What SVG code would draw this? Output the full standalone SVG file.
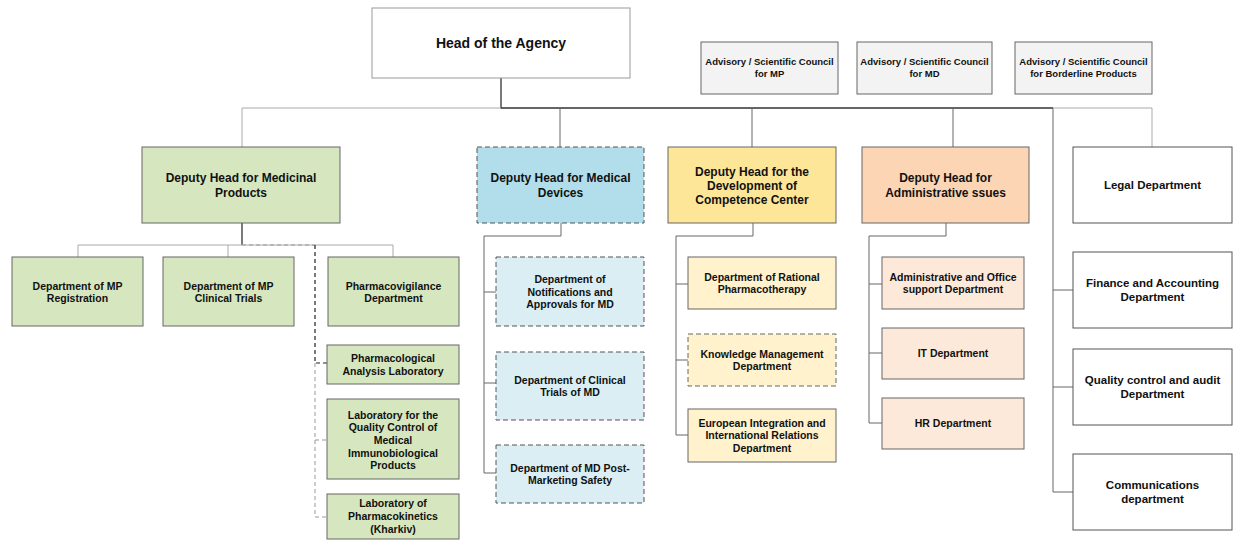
<svg xmlns="http://www.w3.org/2000/svg" width="1235" height="540" viewBox="0 0 1235 540">
<style>
text{font-family:"Liberation Sans",Arial,sans-serif;font-weight:bold;fill:#111;text-anchor:middle}
.t14{font-size:14px}.t12{font-size:12px}.t115{font-size:11.5px}.t105{font-size:10.5px}.t95{font-size:9.5px}
rect{stroke-width:1}
.head{fill:#fff;stroke:#999}
.adv{fill:#f3f3f3;stroke:#666}
.g1{fill:#d6e7bf;stroke:#666}
.b1{fill:#b1deea;stroke:#555;stroke-dasharray:5 3}
.b2{fill:#daeef3;stroke:#555;stroke-dasharray:5 3}
.y1{fill:#fee699;stroke:#666}
.y2{fill:#fff2cc;stroke:#666}
.y2d{fill:#fff2cc;stroke:#666;stroke-dasharray:5 3}
.o1{fill:#fcd5b5;stroke:#666}
.o2{fill:#fde9d9;stroke:#666}
.w{fill:#fff;stroke:#555}
.c{fill:none}
.dk{stroke:#333;stroke-width:1.3}
.md{stroke:#666;stroke-width:1}
.lt{stroke:#aaa;stroke-width:1}
.dd{stroke:#222;stroke-width:1.2;stroke-dasharray:4 3}
.ld{stroke:#999;stroke-width:1;stroke-dasharray:4 3}
</style>
<g id="connectors" class="c">
<path class="dk" d="M501 78V108H1053"/>
<path class="lt" d="M501 108H242V147"/>
<path class="md" d="M560 108V147M752 108V147M953 108V147"/>
<path class="md" d="M1053 108V492H1073M1053 290H1073M1053 387H1073"/>
<path class="lt" d="M1053 108H1152V147"/>
<path class="dk" d="M242 223V245"/>
<path class="lt" d="M78 245H393M78 245V257M228 245V257M393 245V257"/>
<path class="ld" d="M242 245H315"/>
<path class="dd" d="M315 245V363H327"/>
<path class="ld" d="M315 363V517H327M315 440H327"/>
<path class="md" d="M561 223V236H484V473H496M484 292H496M484 383H496"/>
<path class="md" d="M753 223V236H676V435H688M676 284H688M676 360H688"/>
<path class="md" d="M946 223V236H869V423H882M869 284H882M869 353H882"/>
</g>
<g id="head"><rect class="head" x="372" y="8" width="258" height="70"/><text class="t14" x="501" y="48">Head of the Agency</text></g>
<g id="adv-mp"><rect class="adv" x="701" y="42" width="137" height="52"/><text class="t95" x="769.5" y="65">Advisory / Scientific Council</text><text class="t95" x="769.5" y="77">for MP</text></g>
<g id="adv-md"><rect class="adv" x="857" y="42" width="135" height="52"/><text class="t95" x="924.5" y="65">Advisory / Scientific Council</text><text class="t95" x="924.5" y="77">for MD</text></g>
<g id="adv-bp"><rect class="adv" x="1015" y="42" width="137" height="52"/><text class="t95" x="1083.5" y="65">Advisory / Scientific Council</text><text class="t95" x="1083.5" y="77">for Borderline Products</text></g>

<g id="dep-mp"><rect class="g1" x="142" y="147" width="198" height="76"/><text class="t12" x="241" y="182">Deputy Head for Medicinal</text><text class="t12" x="241" y="196.5">Products</text></g>
<g id="mp-reg"><rect class="g1" x="12" y="257" width="131" height="69"/><text class="t105" x="77.5" y="289.5">Department of MP</text><text class="t105" x="77.5" y="302">Registration</text></g>
<g id="mp-ct"><rect class="g1" x="163" y="257" width="131" height="69"/><text class="t105" x="228.5" y="289.5">Department of MP</text><text class="t105" x="228.5" y="302">Clinical Trials</text></g>
<g id="mp-pv"><rect class="g1" x="328" y="257" width="131" height="69"/><text class="t105" x="393.5" y="289.5">Pharmacovigilance</text><text class="t105" x="393.5" y="302">Department</text></g>
<g id="lab-pa"><rect class="g1" x="327" y="345" width="132" height="39"/><text class="t105" x="393" y="362">Pharmacological</text><text class="t105" x="393" y="374.5">Analysis Laboratory</text></g>
<g id="lab-qc"><rect class="g1" x="327" y="399" width="132" height="80"/><text class="t105" x="393" y="418.5">Laboratory for the</text><text class="t105" x="393" y="431.2">Quality Control of</text><text class="t105" x="393" y="443.9">Medical</text><text class="t105" x="393" y="456.6">Immunobiological</text><text class="t105" x="393" y="469.3">Products</text></g>
<g id="lab-pk"><rect class="g1" x="327" y="494" width="132" height="45"/><text class="t105" x="393" y="506.5">Laboratory of</text><text class="t105" x="393" y="519.5">Pharmacokinetics</text><text class="t105" x="393" y="532.5">(Kharkiv)</text></g>

<g id="dep-md"><rect class="b1" x="477" y="147" width="167" height="76"/><text class="t12" x="560.5" y="182">Deputy Head for Medical</text><text class="t12" x="560.5" y="196.5">Devices</text></g>
<g id="md-na"><rect class="b2" x="496" y="257" width="148" height="69"/><text class="t105" x="570" y="283">Department of</text><text class="t105" x="570" y="295.5">Notifications and</text><text class="t105" x="570" y="308">Approvals for MD</text></g>
<g id="md-ct"><rect class="b2" x="496" y="352" width="148" height="68"/><text class="t105" x="570" y="383.5">Department of Clinical</text><text class="t105" x="570" y="396">Trials of MD</text></g>
<g id="md-pm"><rect class="b2" x="496" y="445" width="148" height="58"/><text class="t105" x="570" y="471.5">Department of MD Post-</text><text class="t105" x="570" y="484">Marketing Safety</text></g>

<g id="dep-cc"><rect class="y1" x="668" y="147" width="168" height="76"/><text class="t12" x="752" y="176">Deputy Head for the</text><text class="t12" x="752" y="190">Development of</text><text class="t12" x="752" y="204">Competence Center</text></g>
<g id="cc-rp"><rect class="y2" x="688" y="257" width="148" height="52"/><text class="t105" x="762" y="280.5">Department of Rational</text><text class="t105" x="762" y="293">Pharmacotherapy</text></g>
<g id="cc-km"><rect class="y2d" x="688" y="334" width="148" height="52"/><text class="t105" x="762" y="357.5">Knowledge Management</text><text class="t105" x="762" y="370">Department</text></g>
<g id="cc-ei"><rect class="y2" x="688" y="409" width="148" height="53"/><text class="t105" x="762" y="426.5">European Integration and</text><text class="t105" x="762" y="439">International Relations</text><text class="t105" x="762" y="451.5">Department</text></g>

<g id="dep-ad"><rect class="o1" x="862" y="147" width="167" height="76"/><text class="t12" x="945.5" y="182">Deputy Head for</text><text class="t12" x="945.5" y="196.5">Administrative ssues</text></g>
<g id="ad-os"><rect class="o2" x="882" y="257" width="142" height="52"/><text class="t105" x="953" y="280.5">Administrative and Office</text><text class="t105" x="953" y="293">support Department</text></g>
<g id="ad-it"><rect class="o2" x="882" y="328" width="142" height="51"/><text class="t105" x="953" y="357">IT Department</text></g>
<g id="ad-hr"><rect class="o2" x="882" y="398" width="142" height="51"/><text class="t105" x="953" y="427">HR Department</text></g>

<g id="legal"><rect class="w" x="1073" y="147" width="159" height="76"/><text class="t115" x="1152.5" y="189">Legal Department</text></g>
<g id="finance"><rect class="w" x="1073" y="252" width="159" height="76"/><text class="t115" x="1152.5" y="287.3">Finance and Accounting</text><text class="t115" x="1152.5" y="300.8">Department</text></g>
<g id="quality"><rect class="w" x="1073" y="349" width="159" height="76"/><text class="t115" x="1152.5" y="384.3">Quality control and audit</text><text class="t115" x="1152.5" y="397.8">Department</text></g>
<g id="comms"><rect class="w" x="1073" y="454" width="159" height="76"/><text class="t115" x="1152.5" y="489.3">Communications</text><text class="t115" x="1152.5" y="502.8">department</text></g>
</svg>
